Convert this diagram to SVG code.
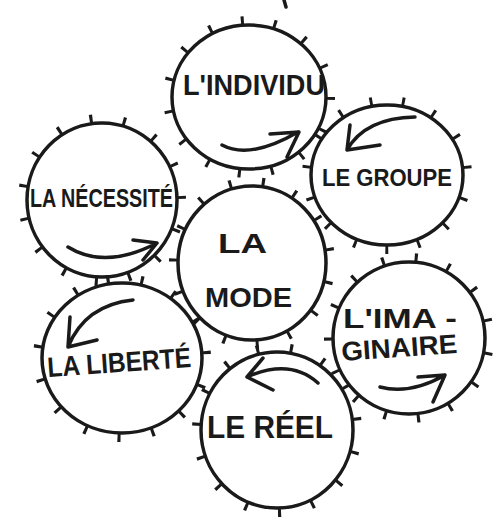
<svg xmlns="http://www.w3.org/2000/svg" width="497" height="521" viewBox="0 0 497 521">
<style>
.c{fill:none;stroke:#1a1a1a;stroke-width:3.5}
.t{fill:none;stroke:#1a1a1a;stroke-width:9;stroke-dasharray:2.2 22}
.a{fill:none;stroke:#1a1a1a;stroke-width:3.5;stroke-linecap:round;stroke-linejoin:round}
text{font-family:"Liberation Sans",Arial,sans-serif;font-weight:bold;fill:#1a1a1a}
</style>
<rect width="497" height="521" fill="#fff"/>
<g id="individu">
<ellipse class="c" cx="249" cy="97" rx="77" ry="72"/>
<ellipse class="t" cx="249" cy="97" rx="81.5" ry="76.5" pathLength="363"/>
<text x="183" y="95" font-size="29" textLength="142" lengthAdjust="spacingAndGlyphs">L'INDIVIDU</text>
<path class="a" d="M222,145 Q250,160 298,132 M270,134 L299,132 L287,157"/>
</g>
<g id="groupe">
<ellipse class="c" cx="387" cy="175" rx="76" ry="70"/>
<ellipse class="t" cx="387" cy="175" rx="80.5" ry="74.5" pathLength="363" stroke-dashoffset="7"/>
<text x="322" y="186" font-size="23" textLength="130" lengthAdjust="spacingAndGlyphs">LE GROUPE</text>
<path class="a" d="M415,117 Q365,118 347,150 M350,125 L347,150 L380,145"/>
</g>
<g id="necessite">
<ellipse class="c" cx="102" cy="200" rx="75" ry="77"/>
<ellipse class="t" cx="102" cy="200" rx="79.5" ry="81.5" pathLength="363" stroke-dashoffset="3"/>
<text x="30" y="207" font-size="25" textLength="143" lengthAdjust="spacingAndGlyphs">LA NÉCESSITÉ</text>
<path class="a" d="M68,247 Q105,270 157,243 M133,240 L157,243 L143,260"/>
</g>
<g id="mode">
<ellipse class="c" cx="252" cy="263" rx="74" ry="77"/>
<ellipse class="t" cx="252" cy="263" rx="78.5" ry="81.5" pathLength="363" stroke-dashoffset="11"/>
<text x="218" y="253" font-size="28" textLength="49" lengthAdjust="spacingAndGlyphs">LA</text>
<text x="205" y="307" font-size="28" textLength="87" lengthAdjust="spacingAndGlyphs">MODE</text>
</g>
<g id="liberte">
<ellipse class="c" cx="122" cy="358" rx="80" ry="75"/>
<ellipse class="t" cx="122" cy="358" rx="84.5" ry="79.5" pathLength="363" stroke-dashoffset="5"/>
<text x="48" y="377" font-size="28" textLength="144" lengthAdjust="spacingAndGlyphs" transform="rotate(-4 48 377)">LA LIBERTÉ</text>
<path class="a" d="M133,300 Q85,305 68,347 M70,317 L68,347 L97,340"/>
</g>
<g id="imaginaire">
<ellipse class="c" cx="409" cy="338" rx="76" ry="76"/>
<ellipse class="t" cx="409" cy="338" rx="80.5" ry="80.5" pathLength="363" stroke-dashoffset="14"/>
<text x="343" y="328" font-size="27" textLength="114" lengthAdjust="spacingAndGlyphs">L'IMA -</text>
<text x="342" y="361" font-size="27" textLength="116" lengthAdjust="spacingAndGlyphs" transform="rotate(-4 342 361)">GINAIRE</text>
<path class="a" d="M380,387 Q410,395 445,375 M418,377 L445,375 L433,402"/>
</g>
<g id="reel">
<ellipse class="c" cx="277" cy="430" rx="76" ry="78"/>
<ellipse class="t" cx="277" cy="430" rx="80.5" ry="82.5" pathLength="363" stroke-dashoffset="9"/>
<text x="207" y="438" font-size="32" textLength="126" lengthAdjust="spacingAndGlyphs">LE RÉEL</text>
<path class="a" d="M318,383 Q290,358 247,377 M263,358 L247,377 L273,390"/>
</g>
<g id="connectors">
<path class="a" d="M284,0 L286,7"/>
</g>
</svg>
